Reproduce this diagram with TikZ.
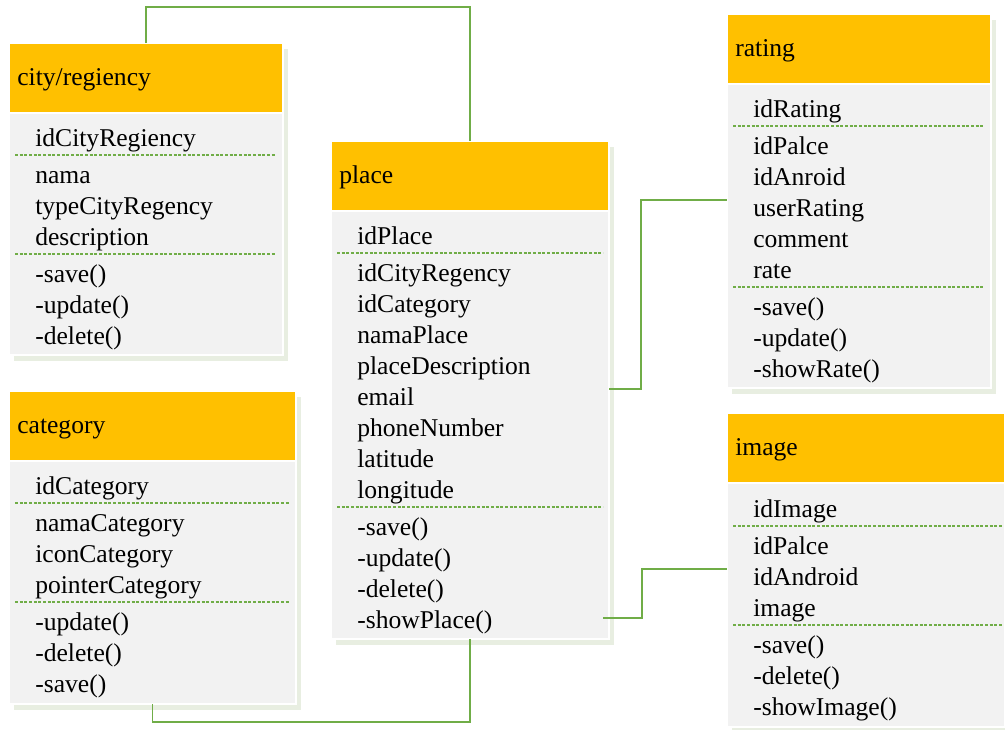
\documentclass[tikz,border=0pt]{standalone}
\usepackage{fontspec}
\setmainfont{Liberation Serif}
\usetikzlibrary{positioning, shadows}
\definecolor{cHead}{HTML}{FFC000}
\definecolor{cBody}{HTML}{F2F2F2}
\definecolor{cLink}{HTML}{70AD47}
\definecolor{cShade}{HTML}{E8EEE1}
\newcommand{\px}{0.75pt}
\tikzset{
  boxbase/.style={rectangle, draw=white, line width=0.9pt, inner sep=0pt, outer sep=0pt,
                  anchor=north west,
                  drop shadow={shadow xshift=5*\px, shadow yshift=-6*\px, fill=cShade, opacity=1}},
  hdr/.style={boxbase, fill=cHead, minimum height=70*\px},
  bodybox/.style={boxbase, fill=cBody},
  title/.style={anchor=base west, inner sep=0pt, font=\fontsize{19.2}{23}\selectfont},
  attr/.style={anchor=base west, inner sep=0pt, font=\fontsize{19.2}{23}\selectfont},
  sep/.style={draw=cLink, line width=0.8pt, dash pattern=on 2.2pt off 1.3pt},
  link/.style={draw=cLink, line width=1.3pt},
}

\begin{document}
\begin{tikzpicture}[x=\px, y=-\px]
  \useasboundingbox (0,0) rectangle (1005,729);

  % ---- city/regiency
  \node[hdr, minimum width=274*\px] (cityH) at (9,43) {};
  \node[bodybox, minimum width=274*\px, minimum height=242*\px] (city) at (9,113) {};
  \node[title] (cityT) at (17,85) {city/regiency};
  \foreach \t/\y [count=\i] in {idCityRegiency/146, nama/183, typeCityRegency/214, description/245,
                                -save()/282, -update()/313, -delete()/344}
    \node[attr] (city-\i) at (35,\y) {\t};
  \draw[sep] (15,155) -- (276,155);
  \draw[sep] (15,254) -- (276,254);

  % ---- category
  \node[hdr, minimum width=287*\px] (catH) at (9,391) {};
  \node[bodybox, minimum width=287*\px, minimum height=243*\px] (cat) at (9,461) {};
  \node[title] (catT) at (17,433) {category};
  \foreach \t/\y [count=\i] in {idCategory/494, namaCategory/531, iconCategory/562, pointerCategory/593,
                                -update()/630, -delete()/661, -save()/692}
    \node[attr] (cat-\i) at (35,\y) {\t};
  \draw[sep] (15,503) -- (289,503);
  \draw[sep] (15,602) -- (289,602);

  % ---- place
  \node[hdr, minimum width=278*\px] (placeH) at (331,141) {};
  \node[bodybox, minimum width=278*\px, minimum height=428*\px] (place) at (331,211) {};
  \node[title] (placeT) at (339,183) {place};
  \foreach \t/\y [count=\i] in {idPlace/244, idCityRegency/281, idCategory/312, namaPlace/343,
                                placeDescription/374, email/405, phoneNumber/436, latitude/467,
                                longitude/498, -save()/535, -update()/566, -delete()/597, -showPlace()/628}
    \node[attr] (place-\i) at (357,\y) {\t};
  \draw[sep] (337,253) -- (603,253);
  \draw[sep] (337,507) -- (603,507);

  % ---- rating
  \node[hdr, minimum width=264*\px] (rateH) at (727,14) {};
  \node[bodybox, minimum width=264*\px, minimum height=304*\px] (rating) at (727,84) {};
  \node[title] (rateT) at (735,56) {rating};
  \foreach \t/\y [count=\i] in {idRating/117, idPalce/154, idAnroid/185, userRating/216, comment/247,
                                rate/278, -save()/315, -update()/346, -showRate()/377}
    \node[attr] (rate-\i) at (753,\y) {\t};
  \draw[sep] (733,126) -- (984,126);
  \draw[sep] (733,287) -- (984,287);

  % ---- image
  \node[hdr, minimum width=278*\px] (imgH) at (727,413) {};
  \node[bodybox, minimum width=278*\px, minimum height=244*\px] (image) at (727,483) {};
  \node[title] (imgT) at (735,455) {image};
  \foreach \t/\y [count=\i] in {idImage/517, idPalce/554, idAndroid/585, image/616,
                                -save()/653, -delete()/684, -showImage()/715}
    \node[attr] (img-\i) at (753,\y) {\t};
  \draw[sep] (733,526) -- (1003,526);
  \draw[sep] (733,625) -- (1003,625);

  % ---- relations
  \draw[link] (cityH.north) -- ++(0,-36) -| (placeH.north);
  \draw[link] (cat.south) -- ++(0,18) -| (place.south);
  \draw[link] ([yshift=36*\px]place.east) -- ++(32,0) |- ([yshift=36*\px]rating.west);
  \draw[link] ([xshift=-6*\px, yshift=21*\px]place.south east) -- ++(39,0) |- ([yshift=36*\px]image.west);
\end{tikzpicture}
\end{document}
